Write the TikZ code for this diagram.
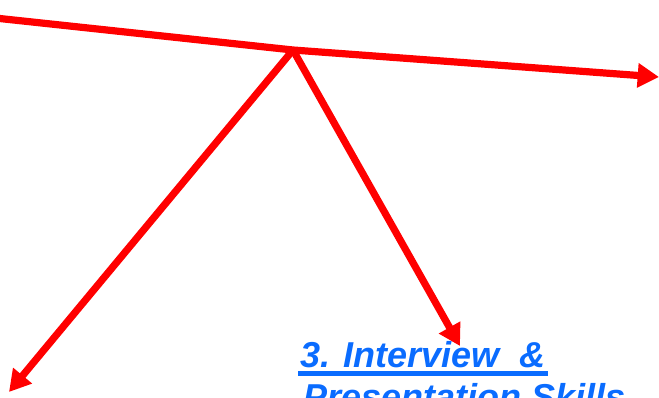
\documentclass[tikz,border=0pt]{standalone}
\usepackage{fontspec}
\setmainfont{Liberation Sans}
\usetikzlibrary{arrows.meta}
\definecolor{linkblue}{HTML}{0A6CFF}
\begin{document}
\begin{tikzpicture}[x=0.75pt,y=-0.75pt,
  redline/.style={draw=red,line width=5.4pt,line cap=butt},
  redarrow/.style={redline,-{Triangle[length=16pt,width=17.5pt]}},
  linktext/.style={font=\fontsize{27}{34}\selectfont\bfseries\itshape,text=linkblue,inner sep=0pt}]
\useasboundingbox (0,0) rectangle (659,397);
\clip (0,0) rectangle (659,397);
\coordinate (start) at (-5,18);
\coordinate (hub) at (293,50);
\coordinate (east) at (659,77);
\coordinate (sw) at (9,392);
\coordinate (se) at (460,346);
\draw[redline] (start) -- (hub);
\draw[redarrow] (hub) -- (east);
\draw[redarrow] (hub) -- (sw);
\draw[redarrow] (hub) -- (se);
\node[linktext,anchor=base west] (l1) at (300,367) {3. Interview\ \ \&};
\node[linktext,anchor=base west] (l2) at (303,409) {Presentation Skills};
\fill[linkblue] (l1.base west) ++(-2,4) rectangle ++(250,5);
\end{tikzpicture}
\end{document}
